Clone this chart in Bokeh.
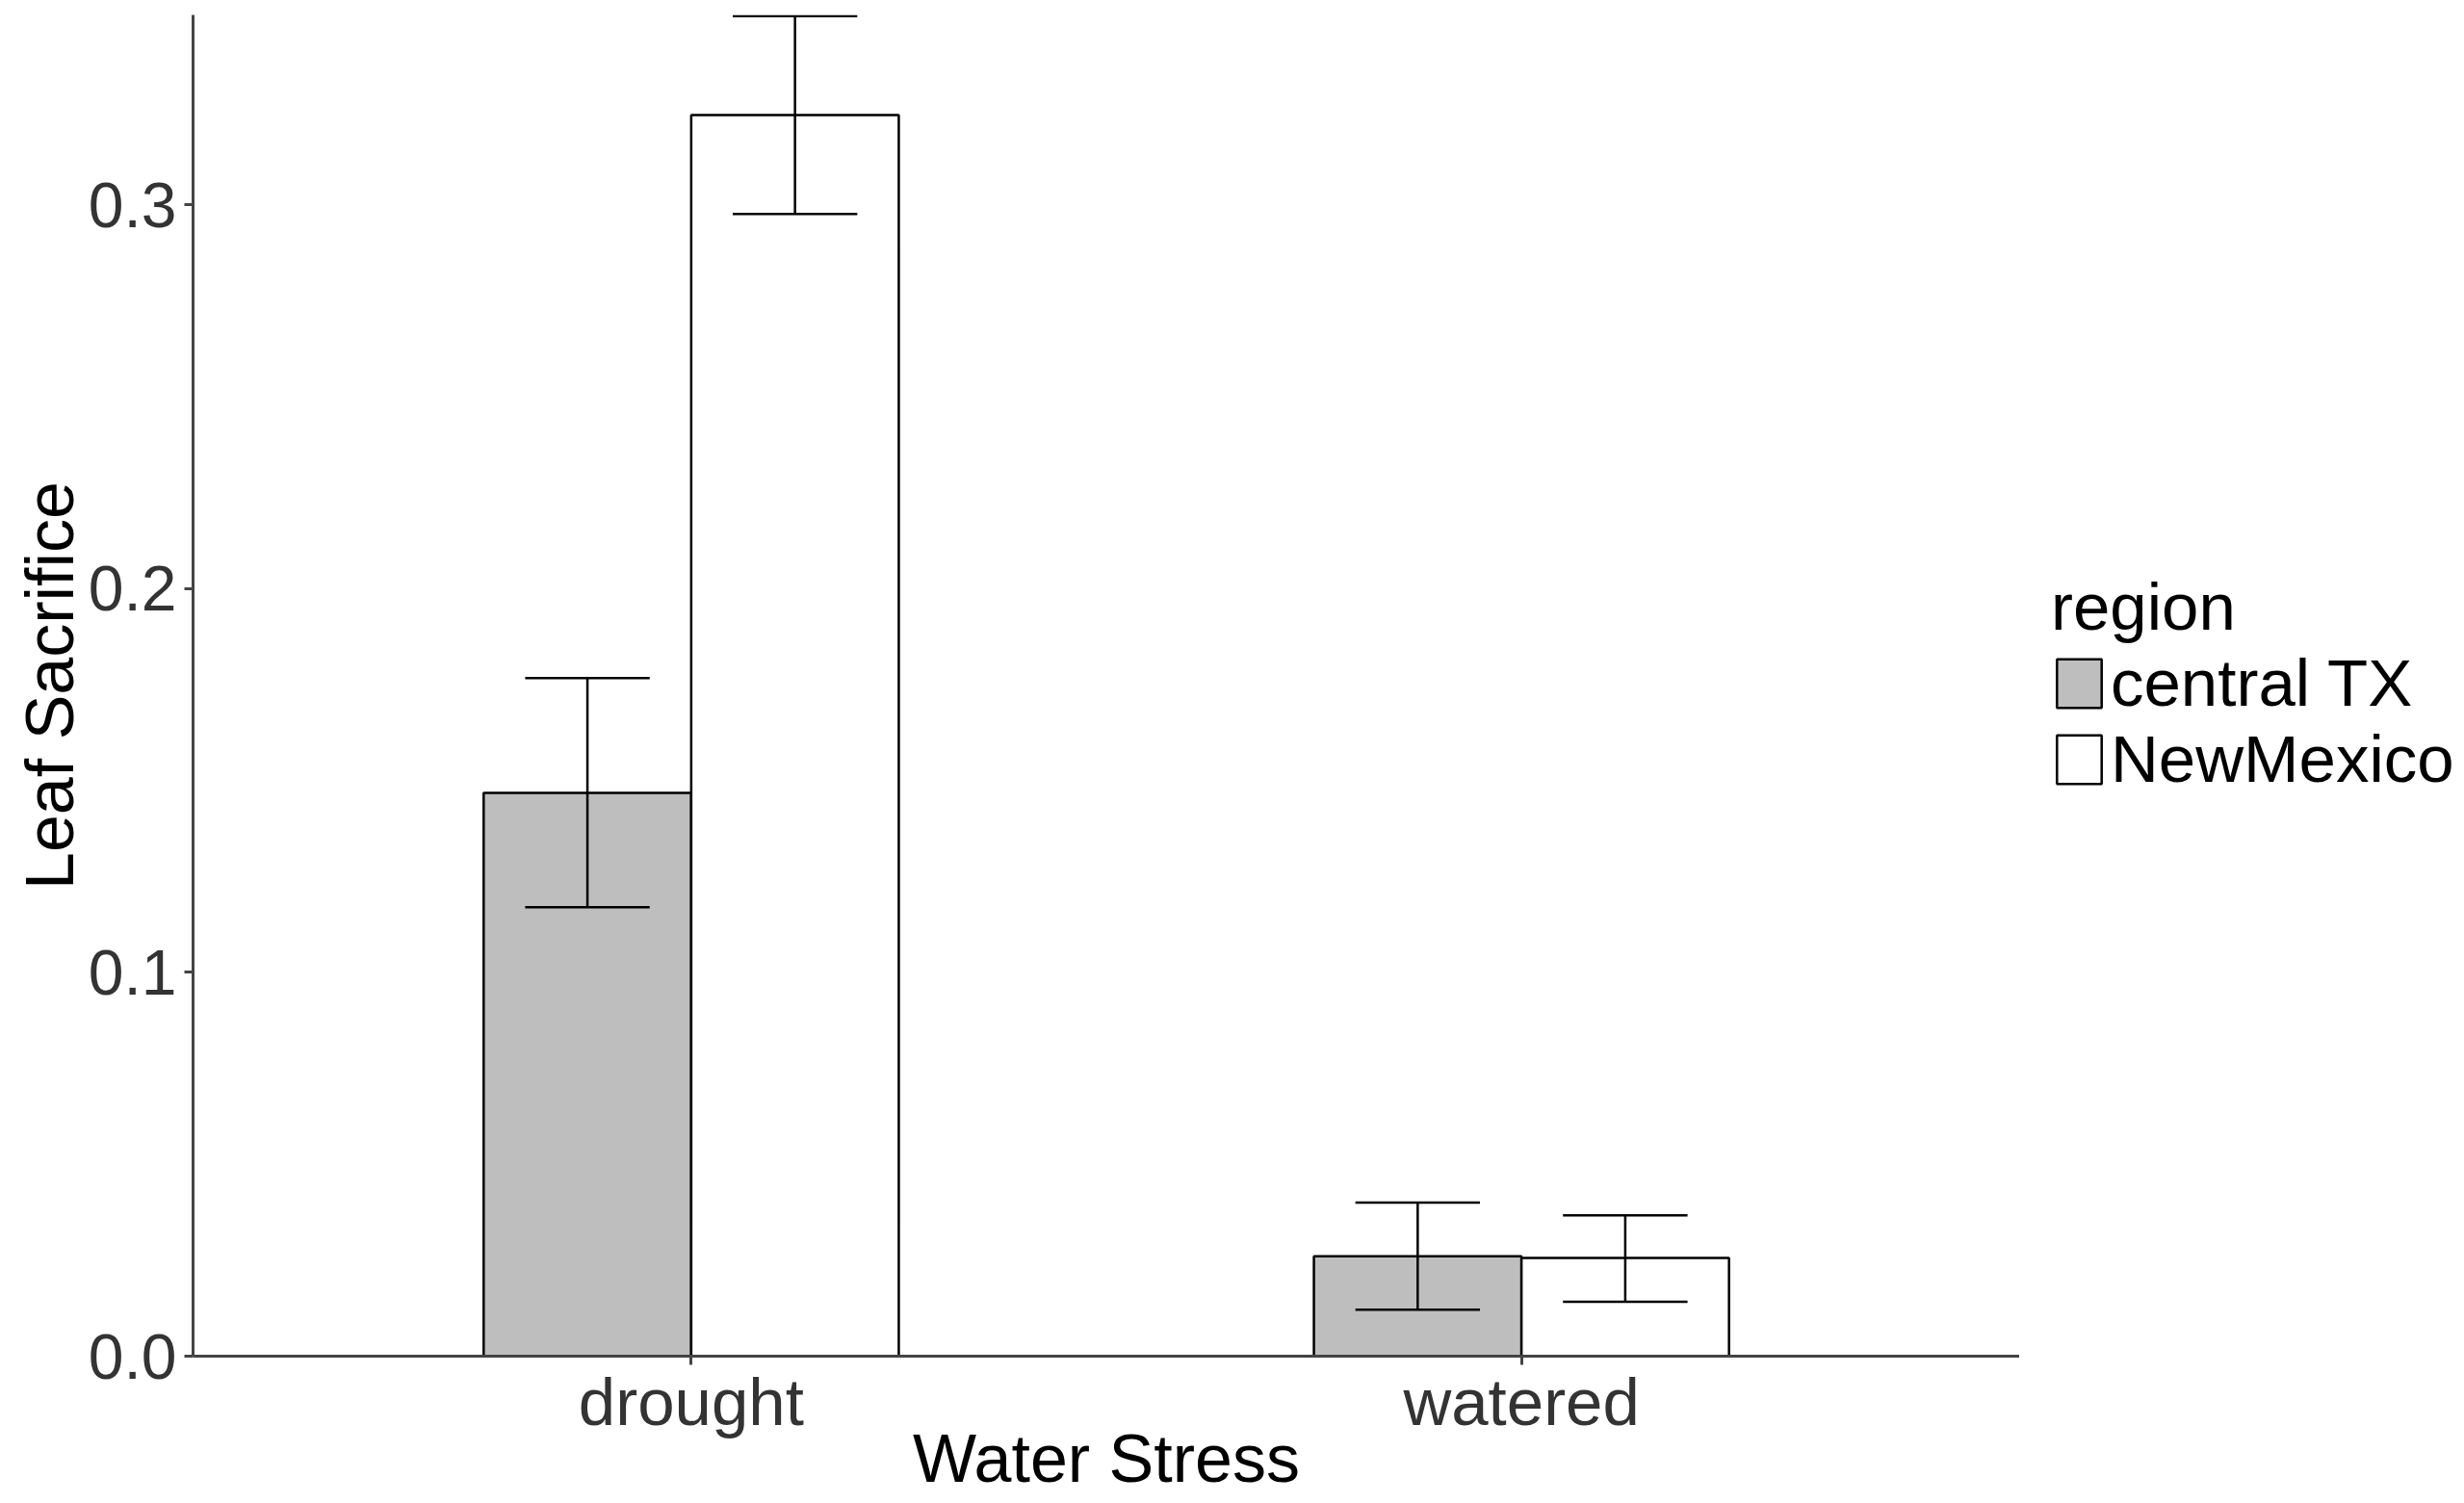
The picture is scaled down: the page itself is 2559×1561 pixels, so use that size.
from bokeh.plotting import figure
from bokeh.layouts import row
from bokeh.models import Range1d, FixedTicker, PrintfTickFormatter, Legend, LegendItem, ColumnDataSource
from bokeh.transform import dodge
from bokeh.embed import file_html
from bokeh.resources import INLINE

# ---- data ----
stress = ["drought", "watered"]
regions = ["central TX", "NewMexico"]
tx_mean = [0.1468, 0.0260]
tx_lo = [0.1170, 0.0121]
tx_hi = [0.1767, 0.0400]
nm_mean = [0.3234, 0.0256]
nm_lo = [0.2976, 0.0142]
nm_hi = [0.3492, 0.0367]
y_ticks = [0.0, 0.1, 0.2, 0.3]

xpos = [i + 1 for i in range(len(stress))]   # category positions on the x scale

FONT = "Liberation Sans"
W_MAIN, W_LEG, H = 2097, 462, 1561
Y_RANGE = Range1d(0, 0.3495)

p = figure(width=W_MAIN, height=H,
           x_range=Range1d(0.4, len(stress) + 0.6),
           y_range=Y_RANGE,
           output_backend="svg", toolbar_location=None,
           min_border_left=200, min_border_right=0,
           min_border_top=15, min_border_bottom=153)

p.xgrid.visible = False
p.ygrid.visible = False
p.outline_line_color = None
p.background_fill_color = "white"

# legend panel (separate figure to the right of the plot panel)
lf = figure(width=W_LEG, height=H, x_range=Range1d(0.4, len(stress) + 0.6), y_range=Y_RANGE,
            output_backend="svg", toolbar_location=None,
            x_axis_location=None, y_axis_location=None,
            min_border_left=0, min_border_right=0, min_border_top=0, min_border_bottom=0)
lf.xgrid.visible = False
lf.ygrid.visible = False
lf.outline_line_color = None

bar_w = 0.25
cap_half = 0.075
series = [
    (regions[0], tx_mean, tx_lo, tx_hi, -0.125, "#BEBEBE"),
    (regions[1], nm_mean, nm_lo, nm_hi, 0.125, "white"),
]
items = []
for name, mean, lo, hi, off, col in series:
    src = ColumnDataSource(dict(x=xpos, stress=stress, mean=mean, lo=lo, hi=hi))
    p.vbar(x=dodge("x", off), top="mean", bottom=0,
           width=bar_w, source=src, fill_color=col,
           line_color="black", line_width=2.5)
    key = lf.vbar(x=dodge("x", off), top="mean", bottom=0,
                  width=bar_w, source=src, fill_color=col,
                  line_color="black", line_width=2.5, visible=False)
    items.append(LegendItem(label=name, renderers=[key]))
    p.segment(x0=dodge("x", off), x1=dodge("x", off),
              y0="lo", y1="hi", source=src, line_color="black", line_width=2.5)
    for ycol in ("lo", "hi"):
        p.segment(x0=dodge("x", off - cap_half), x1=dodge("x", off + cap_half),
                  y0=ycol, y1=ycol, source=src, line_color="black", line_width=2.5)

# axes
for ax in (p.xaxis[0], p.yaxis[0]):
    ax.axis_line_color = "#444444"
    ax.axis_line_width = 3
    ax.major_tick_line_color = "#444444"
    ax.major_tick_line_width = 3
    ax.major_tick_out = 9
    ax.major_tick_in = 0
    ax.minor_tick_line_color = None
    ax.major_label_text_font = FONT
    ax.major_label_text_color = "#333333"
    ax.axis_label_text_font = FONT
    ax.axis_label_text_font_size = "70px"
    ax.axis_label_text_font_style = "normal"
    ax.axis_label_text_color = "black"

p.xaxis.ticker = FixedTicker(ticks=xpos)
p.xaxis.major_label_overrides = {x: s for x, s in zip(xpos, stress)}
p.xaxis.major_label_text_font_size = "69px"
p.yaxis.major_label_text_font_size = "66px"
p.xaxis.axis_label = "Water Stress"
p.yaxis.axis_label = "Leaf Sacrifice"
p.xaxis.major_label_standoff = 0
p.xaxis.axis_label_standoff = -22
p.yaxis.major_label_standoff = 8
p.yaxis.axis_label_standoff = -2
p.yaxis.ticker = FixedTicker(ticks=y_ticks)
p.yaxis.formatter = PrintfTickFormatter(format="%.1f")

legend = Legend(items=items, location=(33, 580),
                title="region", title_text_font=FONT, title_text_font_size="69px",
                title_text_font_style="normal", title_text_color="black",
                title_standoff=0,
                label_text_font=FONT, label_text_font_size="69px", label_text_color="black",
                glyph_width=58, glyph_height=63, label_standoff=4,
                spacing=0, padding=0, margin=0,
                border_line_color=None, background_fill_alpha=0)
lf.add_layout(legend, "center")

layout = row(p, lf)
open("out.html", "w").write(file_html(layout, INLINE))
